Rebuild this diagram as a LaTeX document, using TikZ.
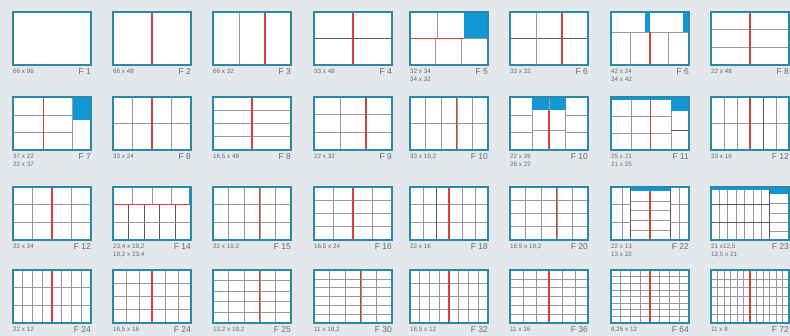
\documentclass[tikz,border=0pt]{standalone}
\usepackage{fontspec}
\setmainfont{Liberation Sans}
\usetikzlibrary{positioning}
\definecolor{bg}{RGB}{228,232,235}
\definecolor{edge}{RGB}{40,138,168}
\definecolor{cut}{RGB}{212,66,56}
\definecolor{lid}{RGB}{18,150,212}
\definecolor{lbl}{RGB}{105,105,105}
% one grid of #1 rows and #2 columns, red divider after column #3
\newcommand\cells[3]{%
  \foreach \i in {1,...,#1}{\draw[g] (0,\i/#1) -- (1,\i/#1);}
  \foreach \j in {1,...,#2}{\draw[g] (\j/#2,0) -- (\j/#2,1);}
  \draw[r] (#3/#2,0) -- (#3/#2,1);}
% frame and the two labels under it
\newcommand\tray[3]{%
  \draw[rim] (0,0) rectangle (1,1);
  \node[dim] (d#1) at (0,1) {#2};
  \node[fno] (f#1) at (1,1) {#3};}
\begin{document}
\begin{tikzpicture}[x=1pt,y=-1pt,
  slot/.style 2 args={shift={(#1pt,-#2pt)},x=78pt,y=-53pt,
    execute at begin scope={\fill[white] (0,0) rectangle (1,1);}},
  rim/.style={draw=edge,line width=1.8pt},
  g/.style={draw=black!40,line width=0.6pt},
  k/.style={draw=black!65,line width=0.7pt},
  r/.style={draw=cut,line width=1.1pt},
  dim/.style={anchor=north west,inner sep=0pt,yshift=-4pt,align=left,
    font=\fontsize{6.3}{7.8}\selectfont,text=lbl},
  fno/.style={anchor=north east,inner sep=0pt,yshift=-3pt,
    font=\fontsize{8.5}{9}\selectfont,text=lbl}]
\fill[bg] (0,0) rectangle (790,336);
% row 1
\begin{scope}[slot={13}{12}]
\tray{1}{66 x 96}{F 1}
\end{scope}
\begin{scope}[slot={113}{12}]
\draw[r] (0.5,0) -- (0.5,1);
\tray{2}{66 x 48}{F 2}
\end{scope}
\begin{scope}[slot={213}{12}]
\draw[g] (1/3,0) -- (1/3,1);\draw[r] (2/3,0) -- (2/3,1);
\tray{3}{66 x 32}{F 3}
\end{scope}
\begin{scope}[slot={314}{12}]
\draw[k] (0,0.5) -- (1,0.5);\draw[r] (0.5,0) -- (0.5,1);
\tray{4}{33 x 48}{F 4}
\end{scope}
\begin{scope}[slot={410}{12}]
\fill[lid] (0.69,0) rectangle (1,0.5);
\draw[g] (0.35,0) -- (0.35,0.5);
\draw[g] (0.33,0.5) -- (0.33,1);\draw[g] (0.66,0.5) -- (0.66,1);
\draw[g] (0.69,0.5) -- (1,0.5);\draw[r] (0,0.5) -- (0.69,0.5);
\tray{5}{32 x 34\\34 x 32}{F 5}
\end{scope}
\begin{scope}[slot={510}{12}]
\draw[k] (0,0.5) -- (1,0.5);
\draw[g] (1/3,0) -- (1/3,1);\draw[r] (2/3,0) -- (2/3,1);
\tray{6}{33 x 32}{F 6}
\end{scope}
\begin{scope}[slot={611}{12}]
\fill[lid] (0.435,0) rectangle (0.5,0.375);
\fill[lid] (0.92,0) rectangle (1,0.375);
\draw[g] (0,0.375) -- (1,0.375);
\draw[g] (0.25,0.375) -- (0.25,1);\draw[g] (0.74,0.375) -- (0.74,1);
\draw[r] (0.5,0.375) -- (0.5,1);
\tray{7}{42 x 24\\24 x 42}{F 6}
\end{scope}
\begin{scope}[slot={711}{12}]
\draw[g] (0,1/3) -- (1,1/3);\draw[g] (0,2/3) -- (1,2/3);
\draw[r] (0.5,0) -- (0.5,1);
\tray{8}{22 x 48}{F 8}
\end{scope}
% row 2
\begin{scope}[slot={13}{97}]
\fill[lid] (0.76,0) rectangle (1,0.44);
\draw[g] (0,0.34) -- (0.76,0.34);\draw[g] (0,0.67) -- (0.76,0.67);
\draw[g] (0.76,0) -- (0.76,1);\draw[r] (0.39,0) -- (0.39,1);
\tray{9}{37 x 22\\22 x 37}{F 7}
\end{scope}
\begin{scope}[slot={113}{97}]
\cells{2}{4}{2}
\tray{10}{33 x 24}{F 8}
\end{scope}
\begin{scope}[slot={213}{97}]
\cells{4}{2}{1}
\tray{11}{16,5 x 48}{F 8}
\end{scope}
\begin{scope}[slot={314}{97}]
\cells{3}{3}{2}
\tray{12}{22 x 32}{F 9}
\end{scope}
\begin{scope}[slot={410}{97}]
\cells{2}{5}{3}
\tray{13}{33 x 19,2}{F 10}
\end{scope}
\begin{scope}[slot={510}{97}]
\draw[g] (0.285,0) -- (0.285,1);\draw[g] (0.715,0) -- (0.715,1);
\foreach \y in {0.34,0.67}{\draw[g] (0,\y) -- (0.285,\y);\draw[g] (0.715,\y) -- (1,\y);}
\fill[lid] (0.285,0) rectangle (0.715,0.25);
\draw[g] (0.5,0) -- (0.5,0.25);
\draw[g] (0.285,0.625) -- (0.715,0.625);\draw[r] (0.5,0.25) -- (0.5,1);
\tray{14}{22 x 26\\26 x 22}{F 10}
\end{scope}
\begin{scope}[slot={611}{97}]
\draw[g] (0,0.37) -- (0.77,0.37);\draw[g] (0,0.69) -- (0.77,0.69);
\draw[g] (0.26,0) -- (0.26,1);\draw[g] (0.77,0) -- (0.77,1);
\draw[r] (0.51,0) -- (0.51,1);
\fill[lid] (0.77,0) rectangle (1,0.27);
\draw[k] (0.77,0.625) -- (1,0.625);
\fill[lid] (0,0) rectangle (1,0.06);
\tray{15}{25 x 21\\21 x 25}{F 11}
\end{scope}
\begin{scope}[slot={711}{97}]
\cells{2}{6}{3}
\draw[k] (4/6,0) -- (4/6,1);
\tray{16}{33 x 16}{F 12}
\end{scope}
% row 3
\begin{scope}[slot={13}{187}]
\cells{3}{4}{2}
\tray{17}{22 x 24}{F 12}
\end{scope}
\begin{scope}[slot={113}{187}]
\foreach \x in {0.25,0.5,0.75}{\draw[g] (\x,0) -- (\x,0.33);}
\foreach \x in {0.2,0.4,0.6,0.8}{\draw[k] (\x,0.33) -- (\x,1);}
\draw[g] (0,0.67) -- (1,0.67);
\fill[lid] (0.97,0) rectangle (1,0.33);
\draw[r] (0,0.33) -- (1,0.33);
\tray{18}{23,4 x 19,2\\19,2 x 23,4}{F 14}
\end{scope}
\begin{scope}[slot={213}{187}]
\cells{3}{5}{3}
\tray{19}{22 x 19,2}{F 15}
\end{scope}
\begin{scope}[slot={314}{187}]
\cells{4}{4}{2}
\tray{20}{16,5 x 24}{F 16}
\end{scope}
\begin{scope}[slot={410}{187}]
\cells{3}{6}{3}
\draw[k] (2/6,0) -- (2/6,1);
\tray{21}{22 x 16}{F 18}
\end{scope}
\begin{scope}[slot={510}{187}]
\cells{4}{5}{3}
\tray{22}{16,5 x 19,2}{F 20}
\end{scope}
\begin{scope}[slot={611}{187}]
\draw[g] (0.14,0) -- (0.14,1);\draw[g] (0.875,0) -- (0.875,1);
\draw[k] (0.25,0) -- (0.25,1);\draw[k] (0.76,0) -- (0.76,1);
\foreach \y in {1/3,2/3}{\draw[g] (0,\y) -- (0.25,\y);\draw[g] (0.76,\y) -- (1,\y);}
\foreach \y in {0.264,0.448,0.632,0.816}{\draw[g] (0.25,\y) -- (0.76,\y);}
\fill[lid] (0.25,0) rectangle (0.76,0.08);
\draw[r] (0.5,0.08) -- (0.5,1);
\tray{23}{22 x 13\\13 x 22}{F 22}
\end{scope}
\begin{scope}[slot={711}{187}]
\foreach \i in {1,...,6}{\draw[g] (\i*0.1076,0) -- (\i*0.1076,1);}
\foreach \y in {1/3,2/3}{\draw[k] (0,\y) -- (0.753,\y);}
\foreach \y in {0.31,0.49,0.67,0.84}{\draw[g] (0.753,\y) -- (1,\y);}
\draw[k] (0.753,0) -- (0.753,1);
\fill[lid] (0.753,0) rectangle (1,0.13);
\fill[lid] (0,0) rectangle (1,0.06);
\tray{24}{21 x12,5\\12,5 x 21}{F 23}
\end{scope}
% row 4
\begin{scope}[slot={13}{270}]
\cells{3}{8}{4}
\tray{25}{22 x 12}{F 24}
\end{scope}
\begin{scope}[slot={113}{270}]
\cells{4}{6}{3}
\tray{26}{16,5 x 16}{F 24}
\end{scope}
\begin{scope}[slot={213}{270}]
\cells{5}{5}{3}
\tray{27}{13,2 x 19,2}{F 25}
\end{scope}
\begin{scope}[slot={314}{270}]
\cells{6}{5}{3}
\tray{28}{11 x 19,2}{F 30}
\end{scope}
\begin{scope}[slot={410}{270}]
\cells{4}{8}{4}
\tray{29}{16,5 x 12}{F 32}
\end{scope}
\begin{scope}[slot={510}{270}]
\cells{6}{6}{3}
\tray{30}{11 x 16}{F 36}
\end{scope}
\begin{scope}[slot={611}{270}]
\cells{8}{8}{4}
\tray{31}{8,25 x 12}{F 64}
\end{scope}
\begin{scope}[slot={711}{270}]
\cells{6}{12}{6}
\tray{32}{11 x 8}{F 72}
\end{scope}
\end{tikzpicture}
\end{document}
